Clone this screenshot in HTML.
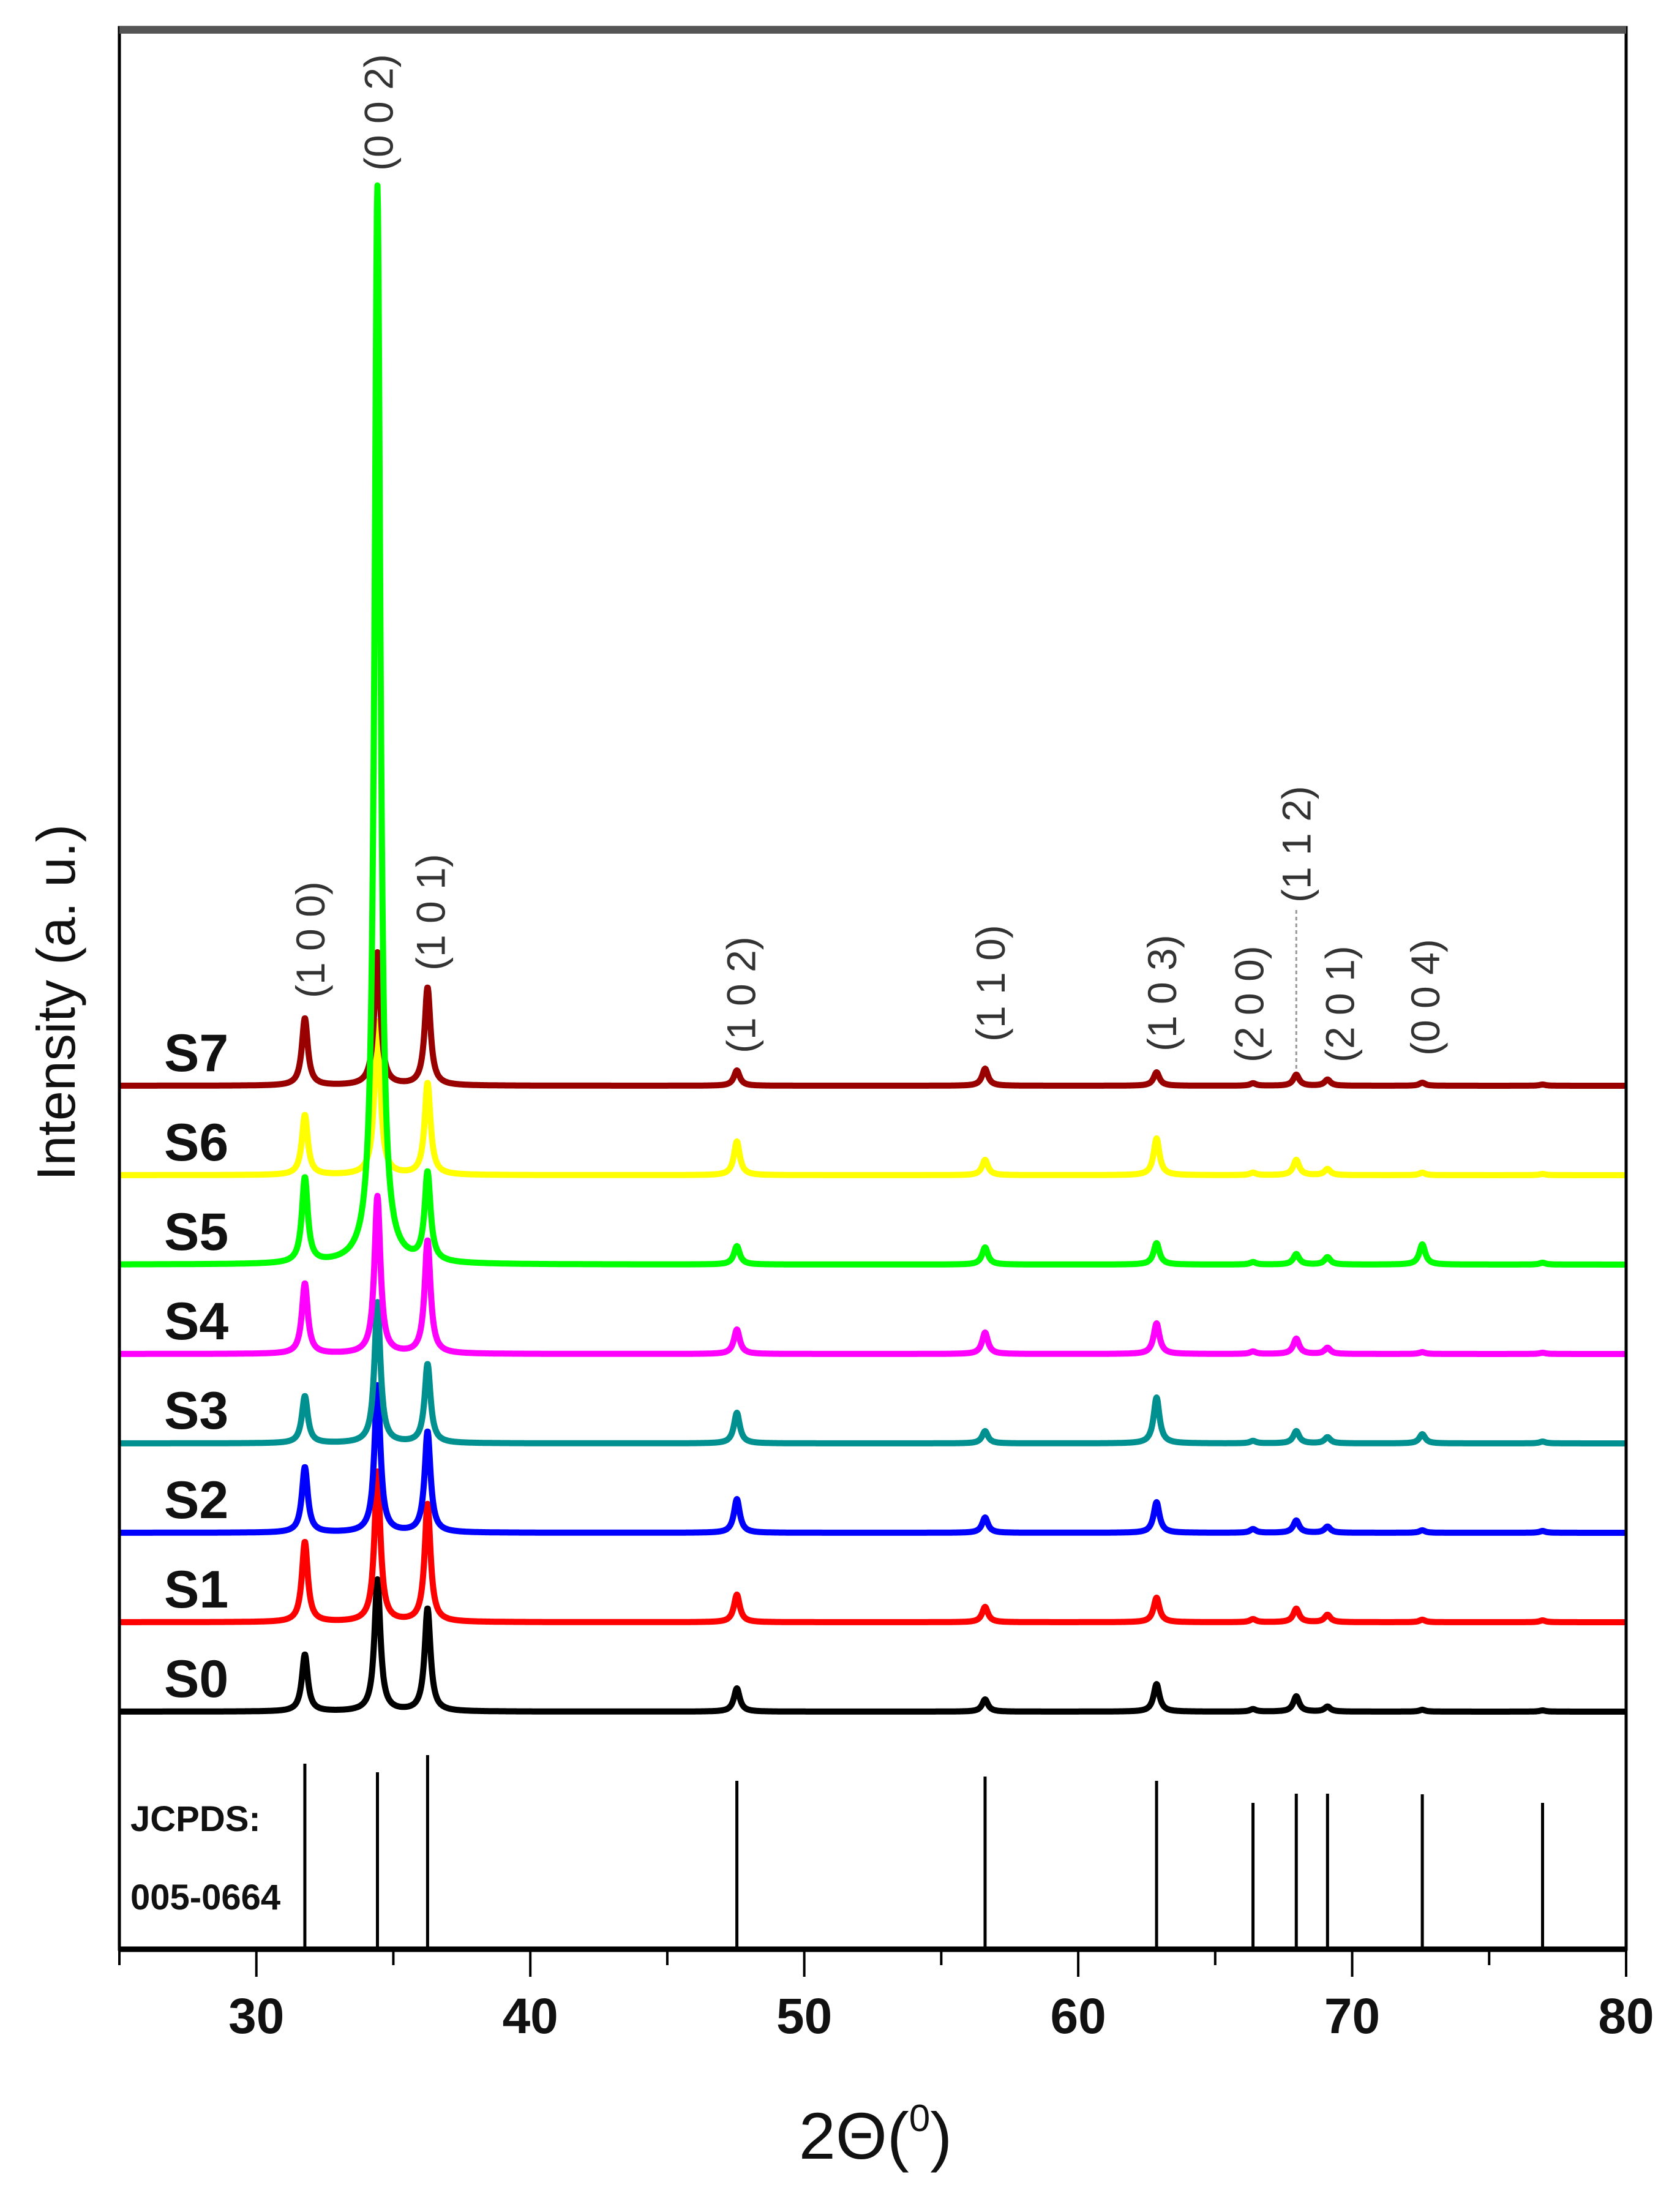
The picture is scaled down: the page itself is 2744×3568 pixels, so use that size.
<!DOCTYPE html>
<html><head><meta charset="utf-8"><title>XRD patterns</title>
<style>html,body{margin:0;padding:0;background:#fff}svg{display:block}</style></head>
<body>
<svg id="chart" width="2744" height="3568" viewBox="0 0 2744 3568" xmlns="http://www.w3.org/2000/svg" font-family="Liberation Sans, sans-serif">
<g id="traces"></g>
<g id="refs"></g>
<g id="frame"></g>
<g id="labels"></g>
</svg>
<script>
const seriesNames = ["S0","S1","S2","S3","S4","S5","S6","S7"];
const seriesColors = ["#000000","#ff0000","#0000ff","#009090","#ff00ff","#00ff00","#ffff00","#990000"];
const peakPositions = [31.77,34.42,36.25,47.54,56.6,62.86,66.38,67.96,69.1,72.56,76.95];
const peakLabels = ["(1 0 0)","(0 0 2)","(1 0 1)","(1 0 2)","(1 1 0)","(1 0 3)","(2 0 0)","(1 1 2)","(2 0 1)","(0 0 4)"];
const labelPeakIndex = [0,1,2,3,4,5,6,7,8,9];
const S0 = [93,215,168,38,20,45,4,25,8,3,2];
const S1 = [131,245,193,45,25,40,5,22,12,4,3];
const S2 = [107,240,165,55,25,50,6,20,10,4,3];
const S3 = [77,230,129,50,20,75,4,20,10,15,3];
const S4 = [115,257,185,40,35,50,4,25,10,3,2];
const S5 = [139,1761,144,30,28,35,4,17,12,33,3];
const S6 = [98,250,150,55,25,60,4,25,10,4,2];
const S7 = [110,217,160,25,28,22,4,18,10,5,2];
const seriesPeaks = [S0,S1,S2,S3,S4,S5,S6,S7];
const refIntensity = [303,289,317,275,282,275,239,254,254,253,239];
const xTicks = [30,40,50,60,70,80];
const xMinorTicks = [25,35,45,55,65,75];

const NS="http://www.w3.org/2000/svg";
const L=195,R=2656,T=45,B=3183;
const x=v=>L+(v-25)*(R-L)/55;
const baseY=i=>2795-146*i;
const refY=v=>B-v;
function mk(tag,attrs,parent){const e=document.createElementNS(NS,tag);for(const k in attrs)e.setAttribute(k,attrs[k]);parent.appendChild(e);return e;}
const traces=document.getElementById('traces'),refs=document.getElementById('refs'),frame=document.getElementById('frame'),labels=document.getElementById('labels');

function profile(t,peaks,w){let s=0;for(let j=0;j<peakPositions.length;j++){const d=(t-peakPositions[j])/w;s+=peaks[j]/(1+d*d);}return s;}
const order=[0,1,2,3,4,6,7,5];
order.forEach(i=>{
  let d="";
  for(let t=25;t<=80.0001;t+=0.02){
    const yy=baseY(i)-profile(t,seriesPeaks[i],0.13);
    d+=(d?"L":"M")+x(t).toFixed(1)+" "+yy.toFixed(1);
  }
  const p=mk('path',{d:d,fill:'none',stroke:seriesColors[i],'stroke-width':10,'stroke-linejoin':'round'},traces);
  
  
  const tx=mk('text',{x:268,y:baseY(i)-24,'font-size':86,'font-weight':'bold',fill:'#111'},labels);
  tx.textContent=seriesNames[i];
  
  
});

peakPositions.forEach((p,j)=>{
  const ln=mk('line',{x1:x(p),x2:x(p),y1:refY(refIntensity[j]),y2:B,stroke:'#000','stroke-width':5},refs);
  
  
});
[["JCPDS:",2990],["005-0664",3118]].forEach(a=>{
  const t=mk('text',{x:213,y:a[1],'font-size':58,'font-weight':'bold',fill:'#111'},labels);
  t.textContent=a[0];
  
  
});

const fr=mk('rect',{x:L,y:T,width:R-L,height:B-T,fill:'none',stroke:'#000','stroke-width':5},frame);


const topAx=mk('line',{x1:L,x2:R,y1:T+4,y2:T+4,stroke:'#555','stroke-width':12},frame);


const botAx=mk('line',{x1:L,x2:R,y1:B,y2:B,stroke:'#000','stroke-width':9},frame);


xTicks.forEach(v=>{
  const tk=mk('line',{x1:x(v),x2:x(v),y1:B,y2:B+45,stroke:'#000','stroke-width':4},frame);
  
  
  const tl=mk('text',{x:x(v),y:3320,'font-size':82,'font-weight':'bold','text-anchor':'middle',fill:'#111'},labels);
  tl.textContent=String(v);
  
  
});
xMinorTicks.forEach(v=>{
  const tk=mk('line',{x1:x(v),x2:x(v),y1:B,y2:B+26,stroke:'#000','stroke-width':4},frame);
  
  
});

// label offsets (px from peak) and bottom y
const labelDx=[9,2,5,7,9,9,-6,0,20,5];
const labelBottom=[1630,279,1585,1720,1701,1717,1735,1474,1735,1724];
peakLabels.forEach((s,j)=>{
  const cx=x(peakPositions[labelPeakIndex[j]])+labelDx[j];
  const t=mk('text',{x:0,y:0,'font-size':66,fill:'#333',transform:`translate(${cx+23},${labelBottom[j]}) rotate(-90)`},labels);
  t.textContent=s;
  
  
});
const gx=x(peakPositions[7]);
const dl=mk('line',{x1:gx,x2:gx,y1:1486,y2:1750,stroke:'#999','stroke-width':3,'stroke-dasharray':'6 5'},labels);



const yt=mk('text',{x:0,y:0,'font-size':88,fill:'#111','text-anchor':'middle',transform:'translate(122,1637) rotate(-90)'},labels);
yt.textContent="Intensity (a. u.)";



const xt=mk('text',{x:1430,y:3525,'font-size':108,fill:'#111','text-anchor':'middle'},labels);
xt.innerHTML='2Θ(<tspan dy="-45" font-size="62">0</tspan><tspan dy="45">)</tspan>';


</script>
</body></html>
